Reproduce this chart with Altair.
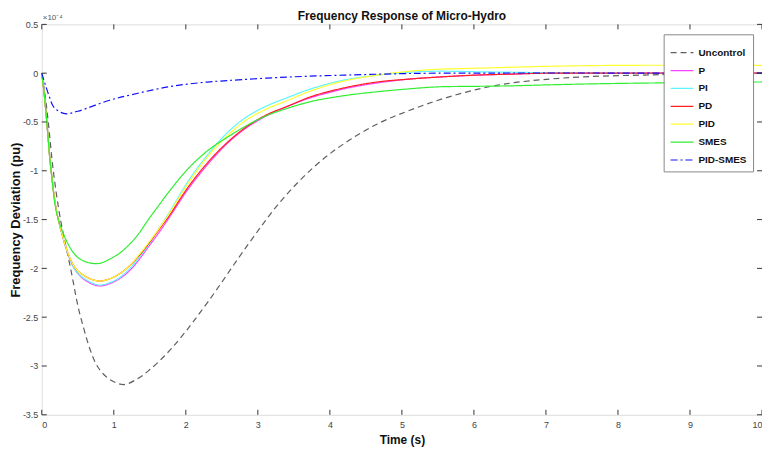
import altair as alt
import pandas as pd

# ---- data (values in units of 1e-4 pu) ----
SERIES = ["Uncontrol", "P", "PI", "PD", "PID", "SMES", "PID-SMES"]
COLORS = ["#5f5f5f", "#ff40ff", "#5ff5ff", "#ff2020", "#ffff30", "#30ee30", "#1010ff"]
DASHES = [[6, 4], [1, 0], [1, 0], [1, 0], [1, 0], [1, 0], [7, 3, 2, 3]]

T_UNC = [0, 0.05, 0.09, 0.16, 0.26, 0.40, 0.54, 0.77, 0.95, 1.14, 1.33, 1.48, 1.70, 1.94, 2.31, 2.86, 3.32, 3.78, 4.2, 4.66, 5.11, 5.62, 6.31, 7.23, 8.6, 10]
V_UNC = [0, -0.25, -0.5, -1.0, -1.5, -2.0, -2.5, -3.0, -3.14, -3.19, -3.13, -3.05, -2.90, -2.70, -2.34, -1.76, -1.31, -0.96, -0.72, -0.52, -0.38, -0.25, -0.125, -0.05, -0.015, 0]

T_G = [0, 0.035, 0.07, 0.13, 0.23, 0.45, 0.6, 0.79, 0.93, 1.07, 1.21, 1.34, 1.48, 1.62, 1.76, 2.03, 2.31, 2.59, 2.86, 3.14, 3.41, 3.74, 4.2, 4.66, 5.11, 5.5, 6.0, 6.5, 7, 8, 10]
V_P = [0, -0.22, -0.5, -1.0, -1.5, -2.0, -2.12, -2.18, -2.16, -2.11, -2.03, -1.92, -1.78, -1.64, -1.49, -1.19, -0.93, -0.71, -0.55, -0.43, -0.34, -0.25, -0.16, -0.10, -0.06, -0.04, -0.022, -0.01, 0, 0, 0]
V_PI = [0, -0.22, -0.5, -1.0, -1.5, -2.0, -2.11, -2.17, -2.15, -2.10, -2.01, -1.90, -1.76, -1.60, -1.44, -1.11, -0.83, -0.60, -0.44, -0.33, -0.25, -0.16, -0.07, -0.02, 0.01, 0.02, 0.015, 0.01, 0.005, 0, 0]
V_PD = [0, -0.22, -0.5, -1.0, -1.5, -1.98, -2.08, -2.13, -2.11, -2.06, -1.98, -1.88, -1.75, -1.61, -1.47, -1.17, -0.91, -0.70, -0.54, -0.42, -0.34, -0.24, -0.15, -0.09, -0.06, -0.04, -0.02, -0.01, 0, 0, 0]
V_PID = [0, -0.22, -0.5, -1.0, -1.5, -1.98, -2.08, -2.13, -2.11, -2.06, -1.98, -1.87, -1.74, -1.60, -1.45, -1.13, -0.85, -0.63, -0.47, -0.36, -0.28, -0.18, -0.08, -0.02, 0.02, 0.04, 0.05, 0.06, 0.07, 0.08, 0.08]
V_SMES = [0, -0.22, -0.5, -1.0, -1.5, -1.85, -1.93, -1.95, -1.91, -1.85, -1.76, -1.65, -1.50, -1.36, -1.22, -0.98, -0.79, -0.65, -0.53, -0.43, -0.36, -0.29, -0.23, -0.19, -0.16, -0.14, -0.135, -0.13, -0.12, -0.105, -0.09]

T_PS = [0, 0.05, 0.1, 0.17, 0.32, 0.5, 0.93, 1.25, 1.76, 2.17, 2.59, 3.41, 4.2, 5.0, 5.5, 10]
V_PS = [0, -0.12, -0.23, -0.35, -0.415, -0.39, -0.28, -0.22, -0.14, -0.10, -0.075, -0.04, -0.02, -0.005, 0, 0]

X_TICKS = list(range(0, 11))
Y_TICKS = [0.5, 0, -0.5, -1, -1.5, -2, -2.5, -3, -3.5]

TS = [T_UNC, T_G, T_G, T_G, T_G, T_G, T_PS]
VS = [V_UNC, V_P, V_PI, V_PD, V_PID, V_SMES, V_PS]

rows = []
for name, ts, vs in zip(SERIES, TS, VS):
    for i, (t, v) in enumerate(zip(ts, vs)):
        rows.append({"series": name, "t": t, "v": v, "order": i})
df = pd.DataFrame(rows)

W, H = 725, 393
xscale = alt.Scale(domain=[0, 10], nice=False)
yscale = alt.Scale(domain=[-3.5, 0.5], nice=False)

legend = alt.Legend(
    orient="none", legendX=626, legendY=10, title=None,
    fillColor="white", strokeColor="#888", padding=6,
    symbolType="stroke", symbolSize=529, symbolStrokeWidth=1.2,
    labelFontSize=10, labelFontWeight="bold", labelColor="#111",
    rowPadding=0, labelOffset=4,
)

lines = alt.Chart(df).mark_line(strokeWidth=1.2, interpolate="catmull-rom").encode(
    x=alt.X("t:Q", scale=xscale,
            axis=alt.Axis(title="Time (s)", values=X_TICKS, format="~g", ticks=False, domain=False, grid=False,
                          labelFontSize=9, labelColor="#444", labelPadding=6,
                          titleFontSize=12, titleFontWeight="bold", titleColor="#111", titlePadding=5)),
    y=alt.Y("v:Q", scale=yscale,
            axis=alt.Axis(title="Frequency Deviation (pu)", values=Y_TICKS, ticks=False, domain=False, grid=False,
                          labelFontSize=9, labelColor="#444", labelPadding=4,
                          labelExpr="replace(format(datum.value, '~g'), '\u2212', '-')",
                          titleFontSize=13, titleFontWeight="bold", titleColor="#111",
                          titleX=-19, titleY=H / 2)),
    color=alt.Color("series:N", scale=alt.Scale(domain=SERIES, range=COLORS), legend=legend),
    strokeDash=alt.StrokeDash("series:N", scale=alt.Scale(domain=SERIES, range=DASHES), legend=legend),
    order="order:Q",
)

xt = pd.DataFrame({"tx": X_TICKS})
yt = pd.DataFrame({"ty": Y_TICKS})
tick_bottom = alt.Chart(xt).mark_rule(color="#333", strokeWidth=1).encode(
    x=alt.X("tx:Q", scale=xscale), y=alt.value(H), y2=alt.value(H - 5))
tick_top = alt.Chart(xt).mark_rule(color="#333", strokeWidth=1).encode(
    x=alt.X("tx:Q", scale=xscale), y=alt.value(0), y2=alt.value(5))
tick_left = alt.Chart(yt).mark_rule(color="#333", strokeWidth=1).encode(
    y=alt.Y("ty:Q", scale=yscale), x=alt.value(0), x2=alt.value(5))
tick_right = alt.Chart(yt).mark_rule(color="#333", strokeWidth=1).encode(
    y=alt.Y("ty:Q", scale=yscale), x=alt.value(W), x2=alt.value(W - 5))

expo = alt.Chart(pd.DataFrame({"s": ["\u00d710\u207b\u2074"]})).mark_text(
    align="left", baseline="bottom", fontSize=8, color="#555", dx=1).encode(
    text="s:N", x=alt.value(0), y=alt.value(-2))

chart = alt.layer(lines, tick_bottom, tick_top, tick_left, tick_right, expo).properties(
    width=W, height=H,
    title=alt.TitleParams("Frequency Response of Micro-Hydro", fontSize=12, fontWeight="bold",
                          color="#111", offset=0, dy=9, anchor="middle", frame="group"),
    autosize=alt.AutoSizeParams(type="none"),
    padding={"left": 34, "top": 15, "right": 0, "bottom": 40},
).configure_view(stroke="#333", strokeWidth=1).configure(font="Liberation Sans")

chart.save("out.html", embed_options={"renderer": "svg", "actions": False})
